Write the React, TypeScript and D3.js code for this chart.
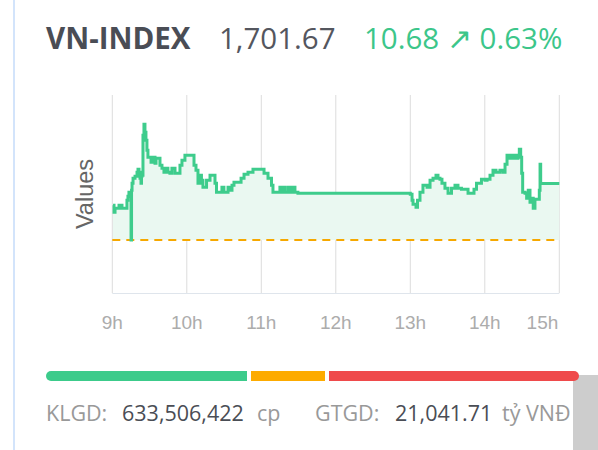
import { scaleLinear, line, area, curveStepAfter } from "d3";

const title = "VN-INDEX"
const lastValue = "1,701.67"
const change = "10.68 ↗ 0.63%"
const refValue = 1690.99

// minutes after 9:00
const tradeMinutes = [
  0.6, 1.4, 2.2, 5.4, 6.2, 7.8, 8.6, 11.8, 12.6, 13.4, 14.3, 15.1, 15.5, 15.9, 16.7, 18.3,
  19.9, 20.7, 21.5, 22.3, 23.1, 23.5, 23.9, 24.7, 25.5, 26.3, 27.1, 27.9, 28.7, 29.6, 31.2,
  32.0, 32.8, 34.4, 35.2, 36.0, 38.4, 40.0, 41.6, 43.2, 44.8, 46.4, 48.0, 50.5, 52.1, 54.5,
  56.1, 58.5, 60.9, 65.8, 67.4, 69.0, 70.6, 71.8, 73.0, 75.9, 78.7, 82.7, 83.9, 84.7, 88.3,
  89.9, 90.7, 93.2, 94.8, 96.4, 98.0, 101.3, 103.7, 106.1, 109.3, 113.3, 114.9, 122.2, 125.4,
  128.2, 129.4, 131.4, 135.0, 135.8, 137.4, 139.0, 141.5, 143.1, 145.5, 147.1, 149.5, 150,
  240, 241.4, 242.2, 244.6, 245.8, 247.8, 250.2, 253.5, 255.9, 258.3, 260.7, 262.3, 263.9,
  265.5, 267.9, 270.4, 273.2, 276.0, 278.4, 281.2, 286.5, 289.3, 291.3, 293.3, 297.3, 300.2,
  301.8, 304.2, 306.6, 309.0, 312.2, 314.7, 316.3, 317.9, 320.3, 322.7, 325.1, 326.7, 327.8,
  328.9, 329.7, 330.5, 332.4, 333.7, 335.0, 336.4, 337.7, 339.0, 340.4, 342.2, 343.9, 344.5,
  345, 360,
]

const indexValues = [
  1697.59, 1696.27, 1697.03, 1697.59, 1697.59, 1697.03, 1697.03, 1698.54, 1699.29, 1700.05,
  1699.29, 1690.99, 1700.42, 1701.74, 1702.69, 1703.07, 1703.82, 1704.39, 1703.82, 1702.69,
  1701.74, 1703.07, 1703.25, 1710.80, 1712.88, 1711.37, 1709.86, 1707.97, 1706.65, 1706.65,
  1705.71, 1706.65, 1706.65, 1705.52, 1706.46, 1706.46, 1705.14, 1704.57, 1703.82, 1704.57,
  1703.82, 1703.63, 1704.57, 1703.63, 1703.63, 1705.14, 1706.08, 1707.03, 1707.03, 1705.14,
  1704.20, 1701.74, 1703.25, 1702.31, 1700.99, 1702.31, 1703.25, 1701.74, 1700.05, 1700.05,
  1700.99, 1700.05, 1700.05, 1700.99, 1700.42, 1701.37, 1701.93, 1701.93, 1702.69, 1703.44,
  1703.82, 1704.39, 1704.39, 1703.63, 1702.69, 1701.37, 1700.05, 1700.05, 1700.99, 1700.05,
  1700.99, 1700.05, 1700.99, 1700.05, 1700.99, 1700.05, 1699.86, 1699.86, 1699.67, 1698.54,
  1697.78, 1697.22, 1698.54, 1700.05, 1701.37, 1700.99, 1702.31, 1702.69, 1703.25, 1702.69,
  1702.50, 1701.74, 1700.80, 1699.86, 1700.80, 1701.37, 1700.80, 1700.61, 1699.86, 1699.86,
  1700.61, 1701.74, 1702.50, 1702.31, 1702.50, 1703.25, 1704.20, 1703.82, 1704.20, 1703.82,
  1705.33, 1707.03, 1706.46, 1707.03, 1706.46, 1707.03, 1708.16, 1706.65, 1703.63, 1700.05,
  1699.86, 1698.91, 1700.42, 1698.16, 1698.91, 1697.03, 1698.73, 1698.73, 1700.42, 1705.33,
  1701.67, 1701.67,
]

const hourLabels = ["9h", "10h", "11h", "12h", "13h", "14h", "15h"]

// advancing / unchanged / declining
const breadthLabels = ["up", "flat", "down"]
const breadthValues = [201, 74, 250]
const breadthColors = ["#3ccb8b", "#fdab00", "#ef4a4b"]

const volumeLabel = "KLGD:"
const volumeValue = "633,506,422"
const volumeUnit = "cp"
const turnoverLabel = "GTGD:"
const turnoverValue = "21,041.71"
const turnoverUnit = "tỷ VNĐ"

const font = "'Open Sans', 'Noto Sans', sans-serif"
const axisFont = "'Liberation Sans', Arial, sans-serif"

export default function App() {
  const width = 598
  const height = 450
  const xScale = scaleLinear().domain([0, 360]).range([112.3, 559.3])
  const yScale = scaleLinear().domain([1681, 1718.4]).range([293, 95])

  const pts = tradeMinutes.map((m, i) => ({ m, v: indexValues[i] }))
  const linePath = line<any>()
    .x(d => xScale(d.m))
    .y(d => yScale(d.v))
    .curve(curveStepAfter)(pts)
  const areaPath = area<any>()
    .x(d => xScale(d.m))
    .y0(yScale(refValue))
    .y1(d => yScale(d.v))
    .curve(curveStepAfter)(pts)

  const gap = 4
  const barScale = scaleLinear()
    .domain([0, breadthValues.reduce((a, b) => a + b, 0)])
    .range([0, 533 - 2 * gap])
  let acc = 46
  const bars = breadthValues.map((v, i) => {
    const x = acc
    const w = barScale(v)
    acc += w + gap
    return { x, w, c: breadthColors[i], k: breadthLabels[i] }
  })
  const barY = 371
  const barH = 10
  const last = bars.length - 1

  return (
    <div>
      <style>{`body{margin:0}`}</style>
      <svg width={width} height={height} style={{ display: "block", fontFamily: font }}>
        <rect x={0} y={0} width={width} height={height} fill="#fff" />
        <line x1={14} x2={14} y1={0} y2={height} stroke="#d3e4fb" strokeWidth={2} />

        <text x={46} y={49} fontSize={29.5} fontWeight={700} fill="#4a4d55">{title}</text>
        <text x={219} y={49} fontSize={29.5} fill="#54565e">{lastValue}</text>
        <text x={364} y={49} fontSize={29.5} fill="#3cc68a">{change}</text>

        {hourLabels.map((h, i) => (
          <line key={h} x1={xScale(i * 60)} x2={xScale(i * 60)} y1={95} y2={293}
            stroke="#dcdcdc" strokeWidth={1} />
        ))}
        <line x1={xScale(0)} x2={xScale(360)} y1={293.5} y2={293.5} stroke="#dfe5ec" strokeWidth={1} />

        <path d={areaPath ?? ""} fill="#eaf8f1" />
        <line x1={xScale(0)} x2={555} y1={yScale(refValue)} y2={yScale(refValue)}
          stroke="#f6a800" strokeWidth={2} strokeDasharray="8,6" />
        <path d={linePath ?? ""} fill="none" stroke="#3ecc8c" strokeWidth={3} />

        {hourLabels.map((h, i) => (
          <text key={h} x={i === 6 ? xScale(i * 60) - 1 : xScale(i * 60)} y={329} fontSize={19}
            fontFamily={axisFont} textAnchor={i === 6 ? "end" : "middle"} fill="#acacac">{h}</text>
        ))}

        <text transform="translate(93,194) rotate(-90)" textAnchor="middle" fontSize={23.5}
          fontFamily={axisFont} fill="#666">Values</text>

        <rect x={573} y={375} width={25} height={75} fill="#cdcdcd" />

        {bars.map((b, i) => (
          <g key={b.k}>
            <rect x={b.x} y={barY} width={b.w} height={barH} fill={b.c}
              rx={i === 0 || i === last ? barH / 2 : 0} />
            {i === 0 && <rect x={b.x + barH} y={barY} width={b.w - barH} height={barH} fill={b.c} />}
            {i === last && <rect x={b.x} y={barY} width={b.w - barH} height={barH} fill={b.c} />}
          </g>
        ))}

        <g fontSize={21.5}>
          <text x={46} y={421} fill="#999">{volumeLabel}</text>
          <text x={122} y={421} fill="#4a4d55">{volumeValue}</text>
          <text x={257} y={421} fill="#999">{volumeUnit}</text>
          <text x={315} y={421} fill="#999">{turnoverLabel}</text>
          <text x={395} y={421} fill="#4a4d55">{turnoverValue}</text>
          <text x={502} y={421} fill="#999">{turnoverUnit}</text>
        </g>
      </svg>
    </div>
  )
}
